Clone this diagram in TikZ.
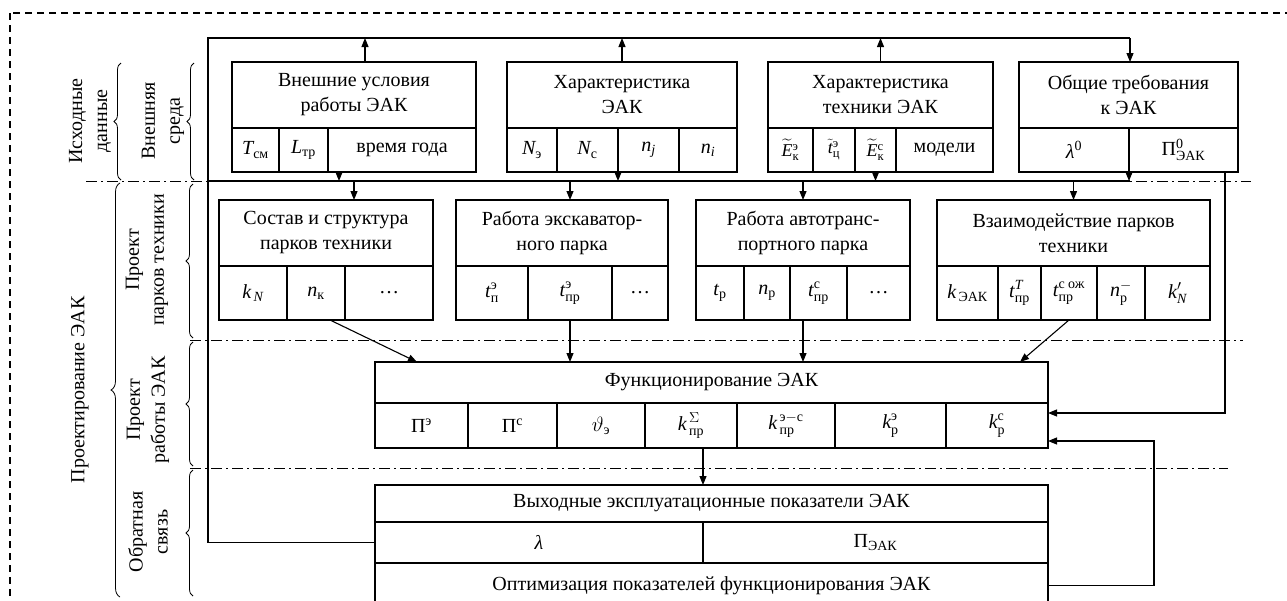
\documentclass[tikz,border=0pt]{standalone}
\usepackage{amsmath}
\usepackage{fontspec}
\setmainfont{Liberation Serif}
\usetikzlibrary{arrows.meta,decorations.pathreplacing}
\newcommand\fs{\fontsize{20}{25}\selectfont}
\newcommand\fss{\fontsize{18}{22}\selectfont}
\newcommand\bx[6]{\node[cellbox, minimum width={#4-#2}, minimum height={#5-#3}, anchor=north west] (#1) at (#2,-#3) {#6};}
\newcommand\ti[1]{\textit{#1}}
\newcommand\tu[1]{\text{#1}}
\tikzset{
 cellbox/.style={draw, fill=white, line width=1.6pt, inner sep=0pt, outer sep=0pt, align=center, font=\fs},
 conn/.style={line width=1.1pt},
 arr/.style={conn, -{Triangle[length=9pt,width=7pt]}},
 sepline/.style={line width=0.9pt, dash pattern=on 11pt off 4pt on 2pt off 4pt},
 br/.style={decorate, decoration={brace, amplitude=7pt}, line width=0.8pt},
 side/.style={rotate=90, align=center, font=\fs, inner sep=0pt},
}
\begin{document}
\begin{tikzpicture}[x=1pt,y=1pt]
\useasboundingbox (0,0) rectangle (1287,-600);
\fill[white] (0,0) rectangle (1287,-600);
\clip (0,0) rectangle (1287,-600);
% outer frame
\draw[line width=1.5pt, dash pattern=on 7pt off 5pt] (10,-13) rectangle (1320,-640);
% separators
\draw[sepline] (86,-181) -- (1251,-181);
\draw[sepline] (190,-340) -- (1243,-340);
\draw[sepline] (190,-468) -- (1228,-468);
% side labels
\node[side] (l1) at (90,-121) {Исходные\\данные};
\node[side] (l2) at (163,-121) {Внешняя\\среда};
\node[side] (l3) at (80,-390) {Проектирование ЭАК};
\node[side] (l4) at (147,-260) {Проект\\парков техники};
\node[side] (l5) at (148,-410) {Проект\\работы ЭАК};
\node[side] (l6) at (148,-532) {Обратная\\связь};
\draw[br] (121,-180) -- (121,-63);
\draw[br] (194,-180) -- (194,-63);
\draw[br, decoration={amplitude=9pt}] (120,-597) -- (120,-183);
\draw[br] (193,-338) -- (193,-184);
\draw[br] (193,-466) -- (193,-342);
\draw[br] (193,-596) -- (193,-470);
% row 1
\bx{A}{232}{62}{476}{128}{Внешние условия\\работы ЭАК}
\bx{A1}{232}{128}{279}{172}{$\ti{T}_{\tu{см}}$}
\bx{A2}{279}{128}{328}{172}{$\ti{L}_{\tu{тр}}$}
\bx{A3}{328}{128}{476}{172}{время года}
\bx{B}{507}{62}{737}{128}{Характеристика\\ЭАК}
\bx{B1}{507}{128}{557}{172}{$\ti{N}_{\tu{э}}$}
\bx{B2}{557}{128}{618}{172}{$\ti{N}_{\tu{с}}$}
\bx{B3}{618}{128}{679}{172}{$\ti{n}_{\ti{j}}$}
\bx{B4}{679}{128}{737}{172}{$\ti{n}_{\ti{i}}$}
\bx{C}{768}{62}{993}{128}{Характеристика\\техники ЭАК}
\bx{C1}{768}{128}{813}{172}{\fss$\widetilde{\ti{E}}{}^{\tu{э}}_{\tu{к}}$}
\bx{C2}{813}{128}{855}{172}{\fss$\tilde{\ti{t}}{}^{\tu{э}}_{\tu{ц}}$}
\bx{C3}{855}{128}{896}{172}{\fss$\widetilde{\ti{E}}{}^{\tu{с}}_{\tu{к}}$}
\bx{C4}{896}{128}{993}{172}{модели}
\bx{D}{1019}{62}{1238}{128}{Общие требования\\к ЭАК}
\bx{D1}{1019}{128}{1129}{172}{$\ti{λ}^{\tu{0}}$}
\bx{D2}{1129}{128}{1238}{172}{$\tu{П}^{\tu{0}}_{\tu{ЭАК}}$}
% row 2
\bx{E}{219}{200}{433}{266}{Состав и структура\\парков техники}
\bx{E1}{219}{266}{287}{320}{$\ti{k}_{\,\ti{N}}$}
\bx{E2}{287}{266}{345}{320}{$\ti{n}_{\tu{к}}$}
\bx{E3}{345}{266}{433}{320}{…}
\bx{F}{456}{200}{668}{266}{Работа экскаватор-\\ного парка}
\bx{F1}{456}{266}{528}{320}{$\ti{t}^{\tu{э}}_{\tu{п}}$}
\bx{F2}{528}{266}{612}{320}{$\ti{t}^{\tu{э}}_{\tu{пр}}$}
\bx{F3}{612}{266}{668}{320}{…}
\bx{G}{696}{200}{910}{266}{Работа автотранс-\\портного парка}
\bx{G1}{696}{266}{744}{320}{$\ti{t}_{\tu{р}}$}
\bx{G2}{744}{266}{790}{320}{$\ti{n}_{\tu{р}}$}
\bx{G3}{790}{266}{847}{320}{$\ti{t}^{\tu{с}}_{\tu{пр}}$}
\bx{G4}{847}{266}{910}{320}{…}
\bx{H}{937}{200}{1210}{266}{Взаимодействие парков\\техники}
\bx{H1}{937}{266}{998}{320}{$\ti{k}_{\,\tu{ЭАК}}$}
\bx{H2}{998}{266}{1041}{320}{$\ti{t}^{\ti{T}}_{\tu{пр}}$}
\bx{H3}{1041}{266}{1097}{320}{$\ti{t}^{\tu{с ож}}_{\tu{пр}}$}
\bx{H4}{1097}{266}{1145}{320}{$\ti{n}^{-}_{\tu{р}}$}
\bx{H5}{1145}{266}{1210}{320}{$\ti{k}'_{\ti{N}}$}
% functioning
\bx{Fn}{375}{362}{1048}{403}{Функционирование ЭАК}
\bx{Fk1}{375}{403}{468}{448}{$\tu{П}^{\tu{э}}$}
\bx{Fk2}{468}{403}{557}{448}{$\tu{П}^{\tu{с}}$}
\bx{Fk3}{557}{403}{645}{448}{$\vartheta_{\tu{э}}$}
\bx{Fk4}{645}{403}{737}{448}{$\ti{k}^{\,\Sigma}_{\,\tu{пр}}$}
\bx{Fk5}{737}{403}{835}{448}{$\ti{k}^{\,\tu{э}-\tu{с}}_{\,\tu{пр}}$}
\bx{Fk6}{835}{403}{946}{448}{$\ti{k}^{\tu{э}}_{\tu{р}}$}
\bx{Fk7}{946}{403}{1048}{448}{$\ti{k}^{\tu{с}}_{\tu{р}}$}
% output
\bx{Out}{375}{485}{1048}{522}{Выходные эксплуатационные показатели ЭАК}
\bx{lam}{375}{522}{703}{563}{$\ti{λ}$}
\bx{PE}{703}{522}{1048}{563}{$\tu{П}_{\tu{ЭАК}}$}
\bx{Opt}{375}{563}{1048}{608}{Оптимизация показателей функционирования ЭАК}
% top feedback loop
\coordinate (tl) at (208,-38);
\coordinate (tr) at (1130,-38);
\draw[conn] (lam.west) -| (tl) -- (tr);
\draw[arr] (tr) -- (tr |- D.north);
\coordinate (aUp) at ([xshift=11pt]A.north);
\draw[arr] (aUp) -- (aUp |- tl);
\draw[arr] (B.north) -- (B.north |- tl);
\draw[arr] (C.north) -- (C.north |- tl);
% bus
\coordinate (bl) at (208,-181);
\coordinate (br) at (1130,-181);
\draw[conn] (bl) -- (br);
\coordinate (aDn) at ([xshift=11pt]A3.south west);
\draw[arr] (aDn) -- (aDn |- bl);
\draw[arr] (B3.south west) -- (B3.south west |- bl);
\draw[arr] (C3.south) -- (C3.south |- bl);
\draw[arr] (D2.south west) -- (D2.south west |- bl);
\coordinate (eIn) at ([xshift=28pt]E.north);
\draw[arr] (eIn |- bl) -- (eIn);
\draw[arr] (F2.north |- bl) -- (F2.north |- F.north);
\draw[arr] (G.north |- bl) -- (G.north);
\draw[arr] (H.north |- bl) -- (H.north);
% row 2 -> functioning
\coordinate (e1) at ([xshift=14pt]E2.south);
\coordinate (fe) at ([xshift=42pt]Fn.north west);
\draw[arr] (e1) -- (fe);
\draw[arr] (F2.south) -- (F2.south |- Fn.north);
\draw[arr] (G.north |- G3.south) -- (G.north |- Fn.north);
\coordinate (fh) at ([xshift=-28pt]Fn.north east);
\draw[arr] (H3.south) -- (fh);
% functioning -> output
\draw[arr] (PE.north west |- Fk4.south) -- (PE.north west |- Out.north);
% right feedbacks
\coordinate (r1) at ([xshift=-13pt]D2.south east);
\coordinate (r1b) at ([yshift=-10pt]Fk7.north east);
\draw[arr] (r1) |- (r1b);
\coordinate (r2) at ([yshift=-38pt]Fk7.north east);
\draw[arr] (Opt.east) -- ++(106,0) |- (r2);
\end{tikzpicture}
\end{document}
